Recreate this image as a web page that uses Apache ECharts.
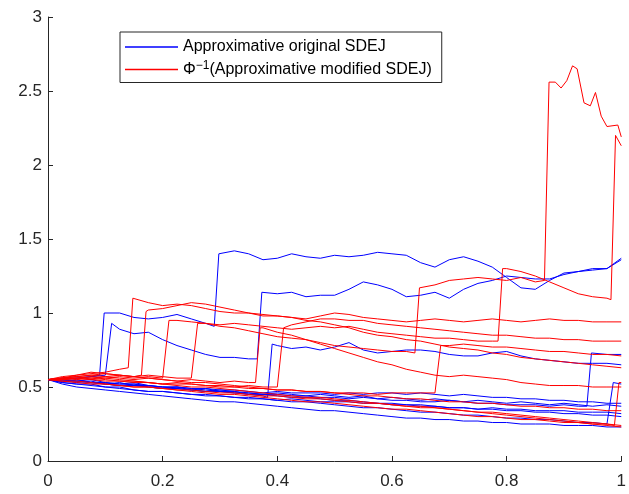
<!DOCTYPE html>
<html>
<head>
<meta charset="utf-8">
<script src="https://cdn.jsdelivr.net/npm/echarts@6/dist/echarts.min.js"></script>
<style>
  html, body { margin: 0; padding: 0; background: #fff; }
  #chart { width: 629px; height: 494px; }
</style>
</head>
<body>
<div id="chart"></div>
<script>
// time grid
const t = [0, 0.025, 0.05, 0.075, 0.1, 0.125, 0.15, 0.175, 0.2, 0.225,
  0.25, 0.275, 0.3, 0.325, 0.35, 0.375, 0.4, 0.425, 0.45, 0.475,
  0.5, 0.525, 0.55, 0.575, 0.6, 0.625, 0.65, 0.675, 0.7, 0.725,
  0.75, 0.775, 0.8, 0.825, 0.85, 0.875, 0.9, 0.925, 0.95, 0.975, 1];

const xTicks = [0, 0.2, 0.4, 0.6, 0.8, 1];
const yTicks = [0, 0.5, 1, 1.5, 2, 2.5, 3];

const blueName = 'Approximative original SDEJ';
const redName = 'Approximative modified SDEJ';

// blue paths: values on the grid, jumps as [x, before, after]
const blue1 = [.55, .56, .56, .57,
  1.01, 1.00, .97, .96, .97, .99, .96, .93,
  1.41, 1.42, 1.40, 1.36, 1.37, 1.40, 1.38, 1.37, 1.39, 1.38, 1.39, 1.41, 1.40, 1.39,
  1.34, 1.31, 1.36, 1.38, 1.35, 1.31, 1.24, 1.17, 1.16, 1.22, 1.27, 1.28, 1.30, 1.30, 1.37];
const blue1Jumps = [[0.09, 0.58, 1.00], [0.29, 0.91, 1.40]];

const blue2 = [.55, .55, .56, .57, .58,
  .89, .86, .87, .82, .78, .75, .72, .70, .70, .69,
  1.14, 1.13, 1.14, 1.11, 1.12, 1.12, 1.16,
  1.21, 1.19, 1.16, 1.11, 1.12, 1.14, 1.10, 1.16, 1.20, 1.22, 1.25, 1.24, 1.23, 1.23, 1.26, 1.28, 1.29, 1.30, 1.36];
const blue2Jumps = [[0.103, 0.58, 0.93], [0.365, 0.69, 1.14]];

const blue3 = [.55, .55, .54, .55, .53, .52, .53, .51, .50, .50, .49, .48, .47, .47, .45, .44,
  .78, .76, .77, .75, .77, .80, .75, .73, .74, .75,
  .75, .74, .72, .71, .71, .73, .74, .71, .69, .68,
  .67, .66, .66, .66, .65];
const blue3Jumps = [[0.383, 0.43, 0.79]];

const blue4 = [.55, .54, .55, .53, .52, .53, .51, .51, .50, .49,
  .48, .49, .47, .46, .46, .45, .45, .44, .44, .43,
  .43, .42, .43, .42, .41, .41, .40, .40, .41, .40,
  .39, .39, .38, .38, .38, .37, .38, .37,
  .73, .72, .72];
const blue4Jumps = [[0.94, 0.37, 0.73]];

const blue5 = [.55, .53, .52, .52, .50, .49, .48, .47, .47, .46,
  .45, .45, .44, .43, .42, .42, .41, .40, .40, .39,
  .38, .37, .36, .36, .35, .34, .33, .33, .32, .31,
  .31, .30, .29, .29, .28, .28, .27, .26, .26, .25,
  .52];
const blue5Jumps = [[0.978, 0.25, 0.53]];

const blue6 = [.55, .54, .53, .54, .52, .51, .52, .50, .49, .50,
  .48, .47, .48, .47, .46, .45, .46, .45, .44, .45,
  .44, .43, .44, .42, .43, .42, .41, .42, .41, .40,
  .41, .40, .39, .40, .39, .38, .39, .38, .37, .38, .37];
const blue7 = [.55, .53, .52, .51, .50, .50, .48, .47, .47, .46,
  .45, .44, .44, .43, .43, .42, .41, .42, .41, .40,
  .40, .40, .39, .39, .38, .38, .37, .37, .36, .36,
  .35, .36, .35, .35, .34, .34, .34, .33, .33, .33, .32];
const blue8 = [.55, .52, .50, .49, .48, .47, .46, .45, .44, .43,
  .42, .41, .40, .40, .39, .38, .37, .36, .35, .34,
  .34, .33, .32, .31, .30, .29, .29, .28, .28, .27,
  .27, .26, .26, .25, .25, .25, .24, .24, .24, .23, .23];
const blue9 = [.55, .55, .54, .53, .53, .52, .52, .51, .50, .50,
  .49, .49, .48, .48, .47, .46, .47, .46, .46, .46,
  .45, .46, .45, .46, .46, .45, .46, .45, .44, .45,
  .44, .43, .43, .42, .42, .41, .41, .40, .40, .39, .39];
const blue10 = [.55, .54, .54, .53, .52, .51, .51, .50, .49, .49,
  .48, .47, .47, .46, .45, .45, .44, .43, .43, .42,
  .41, .41, .40, .39, .39, .38, .38, .37, .36, .36,
  .35, .35, .34, .34, .33, .33, .32, .32, .31, .31, .30];

// red paths
const red1 = [.55, .56, .58, .59, .60, .62,
  1.09, 1.07, 1.05, 1.06, 1.05, 1.03, 1.01, 1.00, 1.00, .99,
  .98, .97, .96, .98, 1.00, .99, .97, .96, .95, .94,
  .95, .96, .95, .94, .95, .96, .95, .94, .95, .96,
  .95, .95, .94, .94, .94];
const red1Jumps = [[0.14, 0.63, 1.10]];

const red2 = [.55, .56, .57, .58, .57, .58, .57,
  1.02, 1.03, 1.05, 1.07, 1.06, 1.04, 1.02, 1.00, .98, .98,
  .97, .95, .94, .92, .90, .87, .85, .84, .82, .81,
  .79, .77, .76, .75, .73, .72, .70, .69, .68, .67,
  .66, .65, .64, .63];
const red2Jumps = [[0.163, 0.58, 1.01]];

const red3 = [.55, .55, .56, .55, .56, .57, .56, .57, .56,
  .95, .94, .93, .91, .90, .88, .86, .84, .83, .82,
  .80, .78, .77, .76, .75, .74, .74,
  1.17, 1.19, 1.22, 1.23, 1.24, 1.23, 1.22, 1.24, 1.21,
  2.56, 2.55, 2.63, 2.42, 2.28, 2.19];
const red3Jumps = [[0.203, 0.56, 0.95], [0.64, 0.73, 1.17], [0.866, 1.22, 2.56]];
// finer reading of the top excursion, replaces the grid values from x = 0.885
const red3Top = [[0.885, 2.56], [0.895, 2.52], [0.905, 2.57], [0.915, 2.67], [0.923, 2.65],
  [0.935, 2.42], [0.946, 2.40], [0.955, 2.49], [0.965, 2.33], [0.975, 2.26],
  [0.994, 2.27], [1, 2.19]];

const red4 = [.55, .56, .57, .58, .59, .58, .57, .58, .57, .56, .56,
  .93, .92, .93, .92, .91, .90, .89, .90, .91, .90,
  .91, .89, .87, .86, .85, .84, .83, .83, .82, .81, .81,
  1.30, 1.28, 1.25, 1.21, 1.17, 1.13, 1.11, 1.10,
  2.13];
const red4Jumps = [[0.253, 0.56, 0.93], [0.785, 0.81, 1.30], [0.982, 1.09, 2.20]];

const red5 = [.55, .56, .55, .56, .57, .56, .55, .56, .55, .54, .55, .54, .53, .54, .53,
  .90, .87, .85, .82, .79, .76, .73, .70, .67, .65,
  .62, .60, .58, .57, .58, .57, .56, .55, .53, .52,
  .51, .51, .51, .50, .50, .50];
const red5Jumps = [[0.362, 0.53, 0.90]];

const red6 = [.55, .55, .56, .55, .54, .54, .53, .53, .52, .52, .52, .51, .51, .50, .51, .50, .50,
  .92, .94, .96, .96, .95, .95, .93, .92, .91, .90,
  .89, .88, .87, .86, .85, .85, .84, .83, .83, .82,
  .82, .81, .81, .81];
const red6Jumps = [[0.403, 0.50, 0.90]];

const red7 = [.55, .56, .57, .56, .55, .54, .54, .53, .52, .53,
  .52, .51, .50, .50, .49, .49, .48, .48, .47, .47,
  .46, .46, .46, .45, .46, .46, .46, .46,
  .78, .79, .78, .77, .77, .76, .75, .74, .74, .73, .72, .72, .71];
const red7Jumps = [[0.677, 0.46, 0.78]];

const red8 = [.55, .54, .53, .52, .52, .51, .50, .50, .49, .48,
  .48, .47, .46, .46, .45, .44, .44, .43, .42, .42,
  .41, .40, .39, .39, .38, .37, .36, .36, .35, .34,
  .33, .33, .32, .31, .30, .29, .28, .27, .26, .25,
  .53];
const red8Jumps = [[0.988, 0.24, 0.53]];

const red9 = [.55, .57, .58, .60, .59, .58, .57, .56, .55, .54,
  .53, .53, .52, .51, .50, .49, .48, .48, .47, .47,
  .46, .45, .44, .44, .43, .42, .42, .41, .40, .40,
  .39, .39, .38, .37, .37, .36, .36, .35, .35, .34, .34];
const red10 = [.55, .54, .54, .53, .52, .51, .50, .50, .49, .48,
  .47, .46, .45, .45, .44, .43, .42, .41, .40, .40,
  .39, .38, .37, .36, .35, .35, .34, .33, .32, .31,
  .30, .30, .29, .28, .28, .27, .26, .26, .25, .25, .24];
const red11 = [.55, .55, .56, .57, .56, .55, .54, .53, .52, .51,
  .50, .50, .49, .48, .47, .46, .45, .44, .43, .43,
  .42, .41, .40, .39, .38, .37, .37, .36, .35, .34,
  .33, .32, .31, .30, .29, .28, .27, .26, .25, .24, .23];

const bluePaths = [
  [blue1, blue1Jumps], [blue2, blue2Jumps], [blue3, blue3Jumps], [blue4, blue4Jumps],
  [blue5, blue5Jumps], [blue6, []], [blue7, []], [blue8, []], [blue9, []], [blue10, []]
];
const redPaths = [
  [red1, red1Jumps], [red2, red2Jumps], [red3, red3Jumps, red3Top], [red4, red4Jumps],
  [red5, red5Jumps], [red6, red6Jumps], [red7, red7Jumps], [red8, red8Jumps],
  [red9, []], [red10, []], [red11, []]
];

// grid values + jump points (+ optional finer tail) -> [x, y] pairs
function buildPath(ys, jumps, tail) {
  const pts = [];
  const cut = tail ? tail[0][0] : 2;
  ys.forEach((y, i) => {
    if (t[i] >= cut) return;
    pts.push([t[i], y]);
    const next = i + 1 < t.length ? t[i + 1] : 2;
    jumps.forEach(j => {
      if (j[0] > t[i] && j[0] < next && j[0] < cut) {
        pts.push([j[0], j[1]], [j[0] + 0.008, j[2]]);
      }
    });
  });
  return tail ? pts.concat(tail) : pts;
}

function makeSeries(paths, name, color) {
  return paths.map(p => ({
    name: name,
    type: 'line',
    data: buildPath(p[0], p[1], p[2]),
    symbol: 'none',
    showSymbol: false,
    silent: true,
    lineStyle: { width: 1, color: color },
    itemStyle: { color: color },
  }));
}

const chart = echarts.init(document.getElementById('chart'));
const textColor = '#262626';
const font = 'Liberation Sans, Arial, Helvetica, sans-serif';

const option = {
  animation: false,
  backgroundColor: '#fff',
  grid: { left: 48, right: 1, top: 17, bottom: 33 },
  legend: {
    data: [
      { name: blueName, icon: 'rect' },
      { name: redName, icon: 'rect' },
    ],
    orient: 'vertical',
    left: 120,
    top: 32,
    padding: [7, 10, 5, 5],
    itemGap: 5,
    itemWidth: 53,
    itemHeight: 1.3,
    borderColor: textColor,
    borderWidth: 1,
    borderRadius: 0,
    backgroundColor: '#fff',
    formatter: name => name === blueName ? '{n|' + name + '}' : '{n|Φ}{s|−1}{n|(' + name + ')}',
    textStyle: {
      fontFamily: font,
      fontSize: 16,
      color: '#000',
      rich: {
        n: { fontFamily: font, fontSize: 16, lineHeight: 19, color: '#000' },
        s: { fontFamily: font, fontSize: 12, lineHeight: 12, verticalAlign: 'top', color: '#000' },
      },
    },
  },
  xAxis: {
    type: 'value',
    min: 0,
    max: 1,
    interval: 0.2,
    splitLine: { show: false },
    axisLine: { lineStyle: { color: textColor, width: 1 } },
    axisTick: { inside: true, length: 5, lineStyle: { color: textColor } },
    axisLabel: {
      color: textColor, fontFamily: font, fontSize: 17, margin: 12,
      formatter: v => xTicks.includes(+v.toFixed(1)) ? String(+v.toFixed(1)) : '',
    },
  },
  yAxis: {
    type: 'value',
    min: 0,
    max: 3,
    interval: 0.5,
    splitLine: { show: false },
    axisLine: { show: true, lineStyle: { color: textColor, width: 1 } },
    axisTick: { show: true, inside: true, length: 5, lineStyle: { color: textColor } },
    axisLabel: {
      color: textColor, fontFamily: font, fontSize: 17, margin: 6,
      formatter: v => yTicks.includes(+v.toFixed(1)) ? String(+v.toFixed(1)) : '',
    },
  },
  series: [
    ...makeSeries(bluePaths, blueName, '#0000ff'),
    ...makeSeries(redPaths, redName, '#ff0000'),
  ],
};

chart.setOption(option);
window.addEventListener('resize', chart.resize);
</script>
</body>
</html>
